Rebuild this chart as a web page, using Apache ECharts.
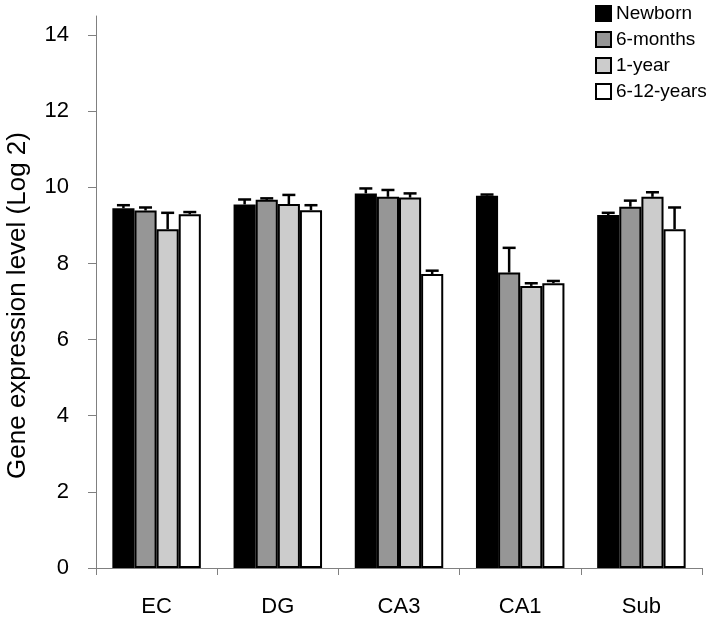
<!DOCTYPE html>
<html>
<head>
<meta charset="utf-8">
<script src="https://cdn.jsdelivr.net/npm/echarts@6/dist/echarts.min.js"></script>
<style>html,body{margin:0;padding:0;background:#fff}#c{width:716px;height:623px}</style>
</head>
<body>
<div id="c"></div>
<script>
var categories = ['EC', 'DG', 'CA3', 'CA1', 'Sub'];
var seriesNames = ['Newborn', '6-months', '1-year', '6-12-years'];
var newborn   = [9.45, 9.55, 9.84, 9.78, 9.27];
var months6   = [9.39, 9.67, 9.75, 7.76, 9.49];
var year1     = [8.90, 9.56, 9.73, 7.41, 9.75];
var years612  = [9.29, 9.40, 7.72, 7.48, 8.90];
var newbornErr  = [0.08, 0.13, 0.13, 0.03, 0.06];
var months6Err  = [0.08, 0.04, 0.18, 0.65, 0.16];
var year1Err    = [0.43, 0.24, 0.11, 0.07, 0.12];
var years612Err = [0.06, 0.13, 0.09, 0.06, 0.57];
var yTicks = [0, 2, 4, 6, 8, 10, 12, 14];
var colors = ['#000000', '#969696', '#cccccc', '#ffffff'];

var values = [newborn, months6, year1, years612];
var errs = [newbornErr, months6Err, year1Err, years612Err];
var CAT_GAP = 0.27;

var series = seriesNames.map(function (name, i) {
  return {
    name: name,
    type: 'bar',
    data: values[i],
    barGap: '0%',
    barCategoryGap: (CAT_GAP * 100) + '%',
    itemStyle: { color: colors[i], borderColor: '#000', borderWidth: 2 },
    emphasis: { disabled: true },
    z: 2
  };
});

var errData = [];
for (var s = 0; s < 4; s++) {
  for (var c = 0; c < categories.length; c++) {
    errData.push([c, values[s][c], values[s][c] + errs[s][c], s]);
  }
}

series.push({
  type: 'custom',
  name: 'err',
  data: errData,
  z: 1,
  silent: true,
  renderItem: function (params, api) {
    var c = api.value(0), v = api.value(1), top = api.value(2), s = api.value(3);
    var band = api.size([1, 0])[0];
    var bw = band * (1 - CAT_GAP) / 4;
    var base = api.coord([c, v]);
    var tp = api.coord([c, top]);
    var x = base[0] + (s - 1.5) * bw;
    var half = 6.5;
    return {
      type: 'group',
      children: [
        { type: 'line', shape: { x1: x, y1: base[1], x2: x, y2: tp[1] }, style: { stroke: '#000', lineWidth: 2.5 } },
        { type: 'line', shape: { x1: x - half, y1: tp[1], x2: x + half, y2: tp[1] }, style: { stroke: '#000', lineWidth: 2.5 } }
      ]
    };
  }
});

var chart = echarts.init(document.getElementById('c'));
chart.setOption({
  animation: false,
  backgroundColor: '#fff',
  textStyle: { fontFamily: 'Liberation Sans, Arial, sans-serif' },
  legend: {
    data: seriesNames,
    orient: 'vertical',
    left: 595,
    top: 4,
    padding: 0,
    itemWidth: 15,
    itemHeight: 15,
    itemGap: 7,
    icon: 'rect',
    textStyle: { fontSize: 19, color: '#000' },
    selectedMode: false
  },
  grid: { left: 96, right: 14, top: 16, bottom: 55, containLabel: false, outerBoundsMode: 'none' },
  xAxis: {
    type: 'category',
    data: categories,
    axisLine: { lineStyle: { color: '#808080', width: 1 } },
    axisTick: { show: true, length: 7, lineStyle: { color: '#808080' } },
    axisLabel: { fontSize: 22, color: '#000', margin: 28 }
  },
  yAxis: {
    type: 'value',
    min: 0,
    max: 14.5,
    name: 'Gene expression level (Log 2)',
    nameLocation: 'middle',
    nameGap: 65,
    nameTextStyle: { fontSize: 26, color: '#000', padding: [0, 27, 0, 0] },
    axisLine: { show: true, lineStyle: { color: '#808080', width: 1 } },
    axisTick: { show: true, length: 8, customValues: yTicks, lineStyle: { color: '#808080' } },
    axisLabel: { fontSize: 22, color: '#000', margin: 27, customValues: yTicks },
    splitLine: { show: false }
  },
  series: series
});
</script>
</body>
</html>
